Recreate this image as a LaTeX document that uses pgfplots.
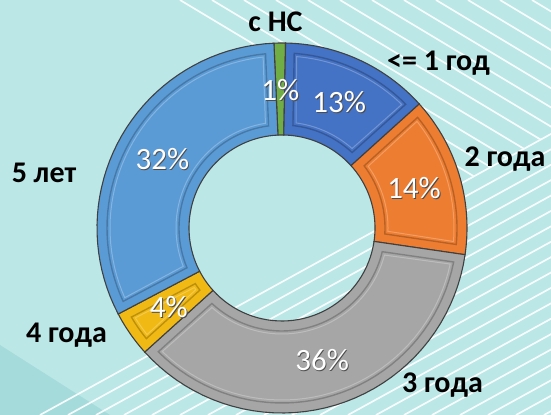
\documentclass[border=0pt]{standalone}
\usepackage{pgfplots}
\pgfplotsset{compat=1.18}
\usepackage{pgfplotstable}
\usepackage{fontspec}
\setmainfont{Carlito}
\definecolor{bg}{RGB}{188,231,231}
\definecolor{bgdark}{RGB}{166,219,220}
\definecolor{c0}{RGB}{112,173,71}
\definecolor{c1}{RGB}{68,114,196}
\definecolor{c2}{RGB}{237,125,49}
\definecolor{c3}{RGB}{166,166,166}
\definecolor{c4}{RGB}{240,185,20}
\definecolor{c5}{RGB}{91,155,213}
% order clockwise from the top: с НС, <= 1 год, 2 года, 3 года, 4 года, 5 лет
\pgfplotstableread{
value
1
13
14
36
4
32
}\donutdata
\newcommand{\startangle}{92.5}
\begin{document}
\begin{tikzpicture}
\useasboundingbox (0,0) rectangle (551bp,415bp);
% precompute angles
\xdef\cum{0}%
\foreach \i in {0,...,5}{%
  \pgfplotstablegetelem{\i}{value}\of\donutdata
  \edef\curval{\pgfplotsretval}%
  \pgfmathsetmacro\aS{\startangle-3.6*\cum}%
  \pgfmathsetmacro\newcum{\cum+\curval}%
  \pgfmathsetmacro\aE{\startangle-3.6*\newcum}%
  \pgfmathsetmacro\dA{\aE-\aS}%
  \pgfmathsetmacro\aM{(\aS+\aE)/2}%
  \pgfmathsetmacro\lx{138*cos(\aM)}%
  \pgfmathsetmacro\ly{138*sin(\aM)}%
  \expandafter\xdef\csname aS\i\endcsname{\aS}%
  \expandafter\xdef\csname aE\i\endcsname{\aE}%
  \expandafter\xdef\csname dA\i\endcsname{\dA}%
  \expandafter\xdef\csname lx\i\endcsname{\lx}%
  \expandafter\xdef\csname ly\i\endcsname{\ly}%
  \expandafter\xdef\csname pv\i\endcsname{\curval}%
  \xdef\cum{\newcum}%
}
% background
\fill[bg] (0,0) rectangle (551bp,415bp);
\begin{scope}[x=1bp,y=-1bp,shift={(0,415bp)}]
  \fill[bgdark] (0,345) -- (110,415) -- (0,415) -- cycle;
  \begin{scope}
    \clip (0,0) rectangle (551,415);
    \foreach \k in {0,...,19}{
      \draw[white, line width=1.7bp, opacity=0.9] ({40+28*\k},415) -- ++(600,-330);
    }
  \end{scope}
  \begin{scope}
    \clip (0,0) -- (551,0) -- (551,133) -- (40,414) -- (0,414) -- cycle;
    \foreach \k in {0,...,12}{
      \draw[white, line width=1.7bp, opacity=0.9] ({180+32*\k},0) -- ++(500,300);
    }
  \end{scope}
\end{scope}
\begin{axis}[
  at={(0,0)}, anchor=south west,
  scale only axis, width=551bp, height=415bp,
  xmin=-282, xmax=269, ymin=-187, ymax=228,
  hide axis,
]
\pgfplotsinvokeforeach{0,...,5}{
  \edef\tS{\csname aS#1\endcsname}%
  \edef\tE{\csname aE#1\endcsname}%
  \edef\tD{\csname dA#1\endcsname}%
  \addplot[fill=c#1, draw=black!75, line width=1.1bp, variable=\t,
    samples at={0,1,...,40,100,101,...,140}]
   ({((\t<70)?185:93)*cos(((\t<70)?((\tS)+(\t/40)*(\tD)):((\tE)-((\t-100)/40)*(\tD))))},
    {((\t<70)?185:93)*sin(((\t<70)?((\tS)+(\t/40)*(\tD)):((\tE)-((\t-100)/40)*(\tD))))}) -- cycle;
}
% bevel frames
\pgfplotsinvokeforeach{1,...,5}{
  \edef\tS{\csname aS#1\endcsname}%
  \edef\tE{\csname aE#1\endcsname}%
  \edef\tD{\csname dA#1\endcsname}%
  \addplot[draw=black, draw opacity=0.22, line width=1.4bp, variable=\t,
    samples at={0,1,...,40,100,101,...,140}]
   ({((\t<70)?175:103)*cos(((\t<70)?((\tS)-2.9+(\t/40)*((\tD)+5.8)):((\tE)+5-((\t-100)/40)*((\tD)+10))))},
    {((\t<70)?175:103)*sin(((\t<70)?((\tS)-2.9+(\t/40)*((\tD)+5.8)):((\tE)+5-((\t-100)/40)*((\tD)+10))))}) -- cycle;
  \addplot[draw=white, draw opacity=0.25, line width=1bp, variable=\t,
    samples at={0,1,...,40,100,101,...,140}]
   ({((\t<70)?172:106)*cos(((\t<70)?((\tS)-3.8+(\t/40)*((\tD)+7.6)):((\tE)+6.5-((\t-100)/40)*((\tD)+13))))},
    {((\t<70)?172:106)*sin(((\t<70)?((\tS)-3.8+(\t/40)*((\tD)+7.6)):((\tE)+6.5-((\t-100)/40)*((\tD)+13))))}) -- cycle;
}
% percentage labels
\pgfplotsinvokeforeach{0,...,5}{
  \node[text=black!70, font=\fontsize{31bp}{36bp}\selectfont, xshift=0.9bp, yshift=-0.9bp]
    at (axis cs:\csname lx#1\endcsname,\csname ly#1\endcsname) {\csname pv#1\endcsname\%};
  \node[text=white, font=\fontsize{31bp}{36bp}\selectfont]
    at (axis cs:\csname lx#1\endcsname,\csname ly#1\endcsname) {\csname pv#1\endcsname\%};
}
\end{axis}
% category labels
\begin{scope}[every node/.style={anchor=base, font=\bfseries\fontsize{30bp}{36bp}\selectfont, text=black, inner sep=0pt}]
  \node at (275.5bp,383bp) {с НС};
  \node at (438.5bp,344bp) {<= 1 год};
  \node at (505bp,248bp) {2 года};
  \node at (442.5bp,23bp) {3 года};
  \node at (44bp,232bp) {5 лет};
  \node at (66.5bp,72bp) {4 года};
\end{scope}
\end{tikzpicture}
\end{document}
